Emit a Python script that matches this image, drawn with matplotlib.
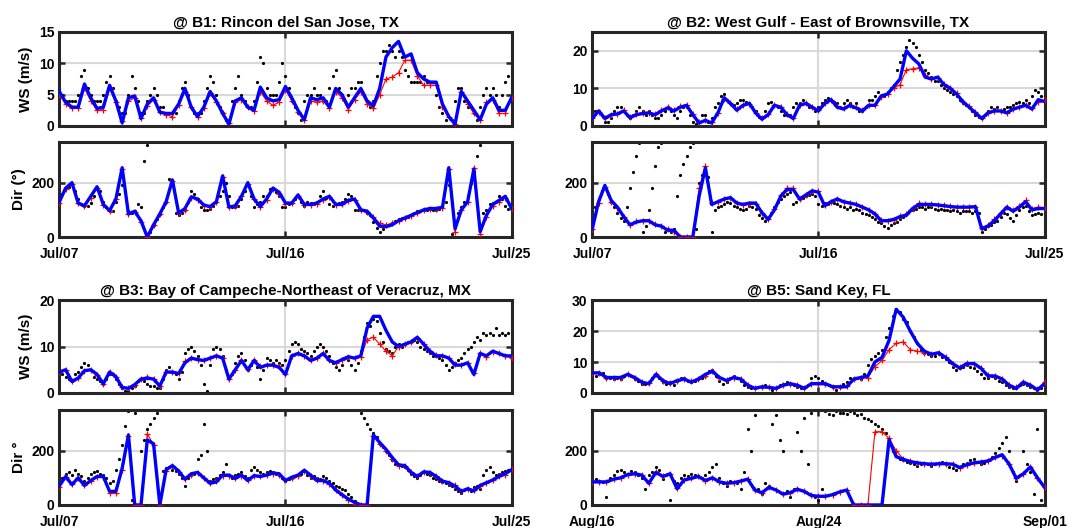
import numpy as np
import pandas as pd
import matplotlib
matplotlib.use("Agg")
import matplotlib.pyplot as plt
import matplotlib.dates as mdates

plt.rcParams.update({"font.family": "Liberation Sans", "font.weight": "bold", "font.size": 10,
                     "axes.labelweight": "bold", "axes.titleweight": "bold"})

# model series are 6-hourly, buoy obs are 3-hourly
# ---------- B1: Rincon del San Jose ----------
b1_start = "2020-07-07"
b1_ws_blue = [5.5, 3.8, 3.0, 3.0, 6.7, 4.5, 2.8, 3.0, 6.5, 4.0,
              0.5, 4.5, 4.8, 1.2, 3.5, 4.5, 2.2, 2.0, 2.0, 3.5,
              6.0, 3.0, 1.5, 3.0, 5.5, 4.0, 2.0, 0.3, 4.0, 4.5,
              3.0, 2.5, 6.2, 4.5, 4.0, 4.2, 6.3, 4.5, 2.5, 1.0,
              4.5, 4.2, 4.5, 3.0, 6.0, 5.0, 3.0, 4.5, 6.0, 4.0,
              3.2, 6.0, 11.0, 12.5, 13.5, 11.0, 11.5, 8.5, 7.5, 7.0,
              7.0, 3.5, 1.5, 0.3, 5.5, 4.0, 2.5, 1.0, 3.5, 4.5,
              2.5, 2.5, 4.5]
b1_ws_red = [5.0, 3.5, 2.8, 2.8, 6.0, 4.0, 2.5, 2.6, 6.0, 3.8,
             0.8, 4.0, 4.5, 1.2, 3.2, 4.2, 2.2, 1.8, 1.5, 3.3,
             5.5, 3.0, 1.5, 2.8, 5.2, 3.8, 2.0, 0.5, 3.8, 4.2,
             3.0, 2.4, 5.5, 4.0, 3.3, 3.8, 5.8, 4.0, 2.3, 1.0,
             4.0, 3.8, 4.0, 2.8, 5.5, 4.5, 2.6, 4.2, 5.5, 3.5,
             2.8, 5.0, 7.5, 7.8, 8.5, 10.5, 10.5, 8.0, 6.5, 6.5,
             6.5, 3.0, 1.5, 0.3, 5.5, 3.5, 2.0, 1.0, 3.8, 4.2,
             2.0, 2.0, 4.5]
b1_ws_obs = [6, 5, 4, 4, 4, 4, 5, 8, 9, 6,
             5, 4, 4, 4, 5, 7, 8, 6, 4, 3,
             2, 2, 5, 8, 6, 4, 2, 2, 4, 5,
             6, 5, 3, 3, 2, 2, 2, 2, 4, 6,
             7, 5, 3, 2, 2, 2, 4, 6, 8, 7,
             5, 3, 2, 1, 1, 4, 6, 8, 5, 4,
             3, 3, 4, 7, 11, 10, 6, 5, 5, 5,
             7, 10, 8, 6, 4, 3, 2, 1, 4, 5,
             5, 6, 5, 5, 4, 4, 6, 8, 9, 6,
             5, 4, 5, 6, 6, 7, 7, 5, 4, 3,
             4, 8, 10, 12, 12, 13, 12, 11, 12, 11,
             9, 8, 7, 7, 7, 7, 8, 7, 7, 7,
             5, 3, 2, 1, 0, 1, 4, 6, 6, 4,
             3, 3, 2, 1, 3, 5, 6, 5, 6, 5,
             3, 5, 7, 8, 6]
b1_dir_blue = [130, 180, 200, 125, 115, 150, 185, 120, 97, 140,
               255, 85, 95, 60, 0, 45, 85, 130, 210, 88,
               105, 148, 140, 118, 112, 130, 225, 110, 115, 150,
               200, 140, 112, 140, 180, 165, 125, 125, 155, 120,
               120, 125, 140, 150, 120, 120, 135, 140, 100, 95,
               70, 40, 38, 45, 60, 70, 80, 90, 100, 105,
               105, 110, 255, 30, 100, 130, 250, 20, 80, 120,
               135, 150, 105]
b1_dir_red = [125, 175, 195, 125, 115, 145, 180, 118, 95, 140,
              250, 85, 92, 55, 0, 45, 85, 130, 205, 90,
              100, 145, 138, 115, 110, 130, 220, 110, 115, 150,
              195, 140, 110, 138, 178, 160, 122, 125, 150, 118,
              118, 122, 138, 148, 118, 120, 132, 138, 100, 92,
              75, 50, 45, 50, 60, 70, 78, 90, 98, 105,
              105, 108, 250, 20, 98, 128, 255, 10, 75, 115,
              130, 145, 105]
b1_dir_obs = [120, 160, 180, 185, 195, 170, 140, 120, 115, 115,
              125, 150, 180, 170, 130, 110, 95, 95, 130, 160,
              190, 170, 95, 90, 95, 120, 110, 280, 340, 20,
              45, 65, 85, 110, 130, 215, 200, 90, 80, 90,
              100, 130, 170, 160, 140, 110, 100, 100, 105, 115,
              130, 150, 170, 200, 150, 110, 110, 115, 140, 170,
              190, 150, 110, 120, 130, 150, 150, 175, 180, 165,
              150, 110, 110, 120, 125, 140, 150, 130, 115, 130,
              125, 120, 130, 150, 170, 145, 120, 115, 120, 125,
              130, 140, 160, 150, 100, 100, 100, 100, 90, 80,
              55, 35, 20, 30, 40, 45, 50, 60, 65, 70,
              70, 75, 80, 90, 95, 95, 100, 100, 105, 100,
              100, 105, 110, 130, 190, 10, 60, 90, 110, 130,
              150, 200, 240, 300, 340, 90, 100, 120, 125, 130,
              150, 140, 115, 105, 105]

# ---------- B2: West Gulf - East of Brownsville ----------
b2_start = "2020-07-07"
b2_ws_blue = [2.0, 4.0, 2.0, 3.0, 3.2, 4.0, 2.2, 3.0, 3.3, 3.5,
              3.0, 4.0, 4.8, 4.0, 5.0, 5.5, 3.0, 0.8, 1.5, 0.8,
              3.5, 7.5, 6.0, 4.2, 5.5, 6.0, 3.5, 1.8, 3.0, 5.5,
              5.0, 3.0, 2.0, 5.5, 6.0, 5.0, 4.0, 6.0, 7.0, 5.0,
              4.5, 5.5, 4.8, 4.0, 5.5, 5.5, 8.0, 8.5, 10.5, 12.5,
              20.0, 18.0, 16.5, 13.0, 12.5, 13.0, 11.0, 10.0, 8.5, 6.5,
              5.0, 3.5, 2.0, 3.5, 4.0, 4.0, 3.5, 4.5, 5.0, 5.5,
              4.5, 7.0, 6.5]
b2_ws_red = [2.2, 3.8, 2.2, 3.0, 3.3, 4.2, 2.5, 3.2, 3.5, 3.5,
             3.2, 4.2, 5.0, 4.2, 5.2, 5.5, 3.2, 1.0, 1.5, 1.0,
             3.5, 7.2, 6.0, 4.5, 5.5, 5.8, 3.5, 2.0, 3.2, 5.5,
             5.0, 3.2, 2.2, 5.5, 6.2, 5.0, 4.2, 6.0, 7.0, 5.2,
             4.8, 5.5, 5.0, 4.2, 5.5, 5.5, 7.8, 8.5, 10.0, 11.0,
             15.0, 15.2, 15.5, 13.5, 12.5, 12.8, 11.2, 10.0, 8.8, 6.5,
             5.2, 3.8, 2.2, 3.5, 4.0, 4.0, 3.5, 4.5, 5.0, 5.5,
             4.8, 6.5, 6.8]
b2_ws_obs = [2, 4, 4, 3, 1, 1, 2, 4, 5, 5,
             4, 3, 2, 3, 4, 5, 4, 3, 4, 3,
             2, 2, 3, 4, 5, 4, 3, 2, 4, 5,
             5, 3, 1, 0.5, 1, 3, 3, 1, 2, 5,
             6, 8, 8.5, 7, 6, 5.5, 6, 7, 7, 6.5,
             6, 5, 4, 2.5, 2.5, 4, 6, 6.5, 5.5, 5,
             4, 3, 3, 3, 5, 6, 6, 7, 6, 5,
             5, 4, 5, 6, 7, 7.5, 7, 6.5, 6, 5,
             6, 7, 6, 5, 6, 4, 4, 5, 7, 7,
             8, 9, 8, 8, 9, 10, 11, 15, 17, 19,
             21, 23, 22, 21, 19, 17, 15, 14, 13, 12,
             12, 11, 10, 9.5, 9, 8.5, 8, 7, 6, 5.5,
             5, 4, 3, 2.5, 2, 3, 4, 5, 4.5, 5,
             4, 4.5, 5, 5, 5.5, 6, 6.5, 6, 7, 6,
             8, 9.5, 9, 8, 8]
b2_dir_blue = [30, 130, 190, 135, 110, 75, 45, 55, 60, 60,
               45, 40, 25, 25, 0, 0, 0, 150, 255, 120,
               130, 140, 145, 125, 120, 125, 125, 90, 65, 100,
               150, 175, 175, 140, 155, 170, 165, 115, 130, 140,
               130, 125, 120, 110, 100, 85, 60, 60, 65, 75,
               80, 105, 120, 120, 120, 118, 115, 112, 110, 110,
               110, 112, 30, 40, 60, 85, 110, 95, 110, 130,
               100, 105, 105]
b2_dir_red = [30, 125, 185, 130, 108, 75, 45, 58, 60, 60,
              48, 40, 28, 20, 0, 0, 0, 180, 260, 125,
              130, 140, 145, 125, 118, 122, 122, 90, 65, 105,
              155, 180, 180, 140, 155, 170, 168, 118, 130, 140,
              130, 125, 122, 112, 100, 85, 62, 58, 62, 78,
              85, 108, 125, 122, 122, 118, 118, 115, 112, 112,
              112, 112, 35, 45, 65, 90, 112, 100, 115, 135,
              105, 110, 108]
b2_dir_obs = [40, 110, 140, 170, 185, 160, 130, 110, 90, 70,
              60, 110, 180, 240, 300, 345, 20, 40, 100, 180,
              260, 330, 345, 20, 30, 20, 30, 150, 230, 270,
              300, 330, 345, 30, 200, 230, 250, 220, 20, 100,
              110, 115, 120, 130, 125, 115, 110, 105, 100, 105,
              115, 110, 105, 80, 70, 60, 70, 90, 110, 130,
              140, 150, 160, 165, 120, 130, 140, 145, 150, 155,
              160, 150, 120, 115, 125, 120, 130, 125, 120, 115,
              110, 105, 110, 100, 105, 100, 90, 85, 80, 75,
              65, 55, 50, 40, 35, 45, 50, 55, 65, 75,
              85, 95, 100, 105, 110, 110, 105, 110, 110, 105,
              100, 105, 100, 100, 95, 100, 95, 90, 95, 95,
              95, 90, 95, 90, 20, 30, 40, 45, 55, 60,
              75, 90, 85, 70, 60, 80, 100, 110, 115, 95,
              80, 85, 90, 85, 90]

# ---------- B3: Bay of Campeche ----------
b3_start = "2020-07-07"
b3_ws_blue = [4.5, 5.0, 2.5, 3.2, 4.8, 5.0, 4.0, 2.0, 4.5, 3.5,
              1.2, 1.0, 1.8, 3.0, 3.2, 3.0, 1.5, 4.5, 4.5, 4.2,
              6.5, 7.5, 7.2, 7.0, 7.5, 8.0, 7.5, 3.0, 5.0, 7.0,
              5.0, 7.0, 5.5, 6.0, 6.0, 5.5, 4.0, 8.0, 8.5, 8.0,
              7.0, 7.5, 8.5, 7.0, 6.5, 7.2, 7.8, 7.5, 8.0, 14.0,
              16.5, 16.5, 13.5, 11.0, 10.0, 10.5, 11.0, 12.0, 10.5, 9.0,
              8.0, 8.0, 7.5, 6.0, 6.0, 6.5, 4.0, 8.5, 8.0, 9.0,
              8.5, 8.0, 8.0]
b3_ws_red = [4.5, 5.0, 2.5, 3.2, 4.8, 5.0, 3.8, 2.0, 4.5, 3.5,
             1.2, 1.0, 1.8, 3.0, 3.5, 3.0, 1.5, 4.5, 4.5, 4.2,
             6.8, 7.5, 7.2, 7.0, 7.5, 8.0, 7.5, 3.0, 5.0, 7.0,
             5.2, 7.0, 5.8, 6.0, 6.0, 5.8, 4.0, 8.0, 8.5, 8.0,
             7.2, 7.5, 8.5, 7.0, 6.5, 7.2, 7.8, 7.5, 7.8, 11.5,
             12.0, 10.5, 9.0, 8.0, 10.0, 10.5, 11.0, 11.8, 10.5, 9.0,
             8.2, 8.0, 7.5, 6.2, 6.0, 6.5, 4.2, 8.5, 7.8, 8.8,
             8.5, 8.0, 7.5]
b3_ws_obs = [4.5, 4, 3.5, 3, 2.5, 4, 4.5, 5.5, 6.5, 6,
             5, 3.5, 3, 2.5, 2, 3, 4, 4, 3, 2,
             1, 0.5, 0.5, 1, 1.5, 2.5, 3, 2.5, 2, 1.5,
             1.5, 1, 1, 3, 5, 5.5, 4.5, 4, 3, 4.5,
             8.5, 9.5, 10, 9, 8, 6, 2, 0.5, 6, 9.5,
             10, 9.5, 8, 5, 3.5, 4, 6.5, 8, 8.5, 7,
             5, 6, 7, 5.5, 3, 5, 7.5, 7, 6.5, 7,
             6.5, 6, 7, 9, 10.5, 11, 10.5, 9.5, 9, 8.5,
             8, 9, 10, 10.5, 10, 9, 8, 6.5, 5.5, 5,
             6, 7.5, 7, 6, 5, 6.5, 9, 12, 15, 14.5,
             16, 15.5, 13, 11, 9.5, 9, 8.5, 10, 10.5, 10,
             10.5, 11, 11, 11.5, 11, 10, 9.5, 9, 8.5, 8,
             8, 7.5, 7, 6, 5, 5.5, 6.5, 7, 7.5, 8.5,
             9.5, 10, 11, 12, 11.5, 13, 12.5, 13, 12.5, 14,
             12.5, 13, 12.5, 13, 12.5]
b3_dir_blue = [70, 105, 75, 100, 72, 90, 105, 105, 50, 50,
               135, 258, 0, 0, 240, 225, 0, 130, 145, 125,
               95, 115, 120, 100, 80, 85, 110, 110, 98, 110,
               90, 108, 105, 110, 118, 115, 90, 102, 110, 128,
               110, 90, 90, 80, 55, 38, 22, 10, 0, 0,
               258, 230, 205, 175, 148, 145, 120, 105, 122, 120,
               105, 88, 82, 70, 50, 60, 52, 72, 82, 92,
               105, 115, 130]
b3_dir_red = [68, 102, 78, 98, 75, 88, 102, 102, 45, 45,
              130, 255, 0, 0, 262, 222, 0, 125, 145, 122,
              95, 112, 118, 100, 82, 88, 108, 108, 100, 108,
              92, 105, 105, 110, 115, 112, 92, 100, 108, 125,
              108, 92, 90, 78, 55, 35, 20, 5, 0, 0,
              255, 225, 200, 170, 145, 142, 122, 108, 120, 118,
              105, 90, 82, 72, 50, 58, 55, 70, 80, 92,
              105, 112, 132]
b3_dir_obs = [80, 100, 115, 120, 110, 130, 115, 105, 90, 100,
              115, 120, 125, 115, 110, 100, 80, 90, 130, 170,
              220, 290, 345, 20, 340, 0, 200, 240, 280, 300,
              320, 340, 350, 125, 135, 140, 130, 125, 115, 100,
              70, 100, 110, 115, 170, 185, 300, 200, 90, 95,
              100, 110, 120, 150, 110, 100, 110, 115, 120, 105,
              100, 130, 140, 130, 120, 115, 120, 125, 120, 115,
              110, 100, 90, 95, 100, 105, 110, 115, 125, 110,
              100, 105, 100, 95, 105, 100, 90, 80, 70, 65,
              60, 55, 40, 30, 15, 5, 340, 320, 300, 280,
              265, 250, 225, 215, 200, 185, 165, 150, 148, 145,
              140, 130, 115, 105, 100, 110, 120, 115, 110, 100,
              95, 90, 85, 80, 75, 70, 60, 50, 45, 55,
              60, 50, 65, 70, 60, 110, 130, 140, 120, 110,
              115, 120, 125, 130, 135]

# ---------- B5: Sand Key ----------
b5_start = "2020-08-16"
b5_ws_blue = [6.5, 6.5, 5.0, 5.0, 5.0, 6.0, 5.0, 3.5, 3.0, 6.0,
              4.0, 3.0, 4.0, 4.5, 3.5, 4.5, 6.0, 7.0, 5.0, 4.0,
              5.0, 4.5, 2.5, 1.5, 2.0, 1.8, 1.5, 2.5, 3.0, 2.5,
              1.5, 3.0, 3.0, 3.0, 2.0, 2.0, 2.0, 4.5, 5.0, 5.5,
              10.0, 11.5, 17.0, 27.0, 24.5, 20.0, 16.0, 13.5, 12.5, 13.0,
              11.5, 9.5, 8.0, 9.5, 9.5, 8.0, 5.5, 5.5, 4.5, 2.5,
              1.5, 3.5, 2.5, 1.0, 3.0]
b5_ws_red = [6.5, 6.5, 5.0, 5.0, 5.0, 6.0, 5.0, 3.5, 3.2, 6.0,
             4.0, 3.2, 4.0, 4.5, 3.8, 4.5, 5.5, 7.0, 5.0, 4.2,
             5.0, 4.5, 2.5, 1.5, 2.0, 1.8, 1.5, 2.5, 3.0, 2.5,
             1.5, 3.0, 3.0, 3.0, 2.0, 2.0, 2.2, 4.5, 5.0, 5.0,
             8.5, 10.5, 14.0, 16.0, 16.5, 14.0, 13.5, 13.0, 12.5, 13.0,
             11.5, 9.5, 8.5, 9.8, 9.5, 8.0, 5.8, 5.5, 4.5, 2.5,
             1.8, 3.5, 2.5, 1.2, 3.5]
b5_ws_obs = [6, 5.5, 6, 6.5, 5, 5, 4.5, 5, 4.5, 5.5,
             6, 5.5, 4.5, 4, 3, 3, 3.5, 5, 6, 5,
             3.5, 3, 3.5, 2.5, 4, 5, 5, 4, 3.5, 4,
             4.5, 5, 5.5, 7, 7.5, 5.5, 4, 3, 3.5, 5,
             5.5, 5, 4, 2.5, 2, 1.5, 1.5, 2, 2, 2.5,
             2, 1, 1.5, 2.5, 3, 3.5, 3, 2.5, 2, 1.5,
             1.5, 2.5, 5, 5.5, 5, 4, 3, 2.5, 2, 1,
             2, 3, 3.5, 5, 4.5, 5, 4.5, 6, 9, 11,
             12, 13, 14, 18, 21, 25, 27, 26, 24, 23,
             20, 18, 16, 14, 13, 12.5, 12, 12, 12.5, 11.5,
             11, 10, 8.5, 7.5, 8, 8.5, 9, 8.5, 8, 7,
             6, 5, 5, 5.5, 5, 4, 3.5, 2.5, 2, 1.5,
             1.5, 2.5, 3, 2.5, 2, 1.5, 1, 1.5, 3]
b5_dir_blue = [85, 85, 85, 95, 100, 112, 115, 110, 80, 120,
               105, 115, 60, 92, 98, 105, 90, 100, 85, 80,
               82, 88, 95, 55, 45, 65, 55, 40, 45, 58,
               50, 35, 32, 32, 38, 48, 55, 0, 0, 0,
               0, 0, 240, 178, 168, 160, 155, 152, 150, 152,
               152, 150, 138, 148, 155, 158, 162, 175, 185, 150,
               98, 115, 140, 100, 65]
b5_dir_red = [85, 85, 85, 95, 100, 112, 115, 110, 80, 120,
              105, 115, 62, 92, 98, 105, 90, 100, 85, 80,
              82, 88, 95, 55, 45, 65, 55, 40, 45, 58,
              50, 35, 32, 32, 38, 48, 55, 0, 0, 0,
              270, 270, 245, 200, 170, 162, 155, 152, 150, 152,
              152, 150, 138, 148, 155, 158, 162, 175, 182, 150,
              98, 115, 140, 100, 65]
b5_dir_obs = [90, 95, 90, 85, 30, 100, 110, 125, 130, 120,
              115, 125, 120, 110, 100, 60, 110, 120, 140, 130,
              95, 110, 20, 90, 80, 100, 110, 105, 115, 110,
              105, 100, 110, 120, 140, 150, 100, 80, 70, 90,
              85, 80, 60, 120, 280, 200, 330, 60, 40, 80,
              70, 300, 330, 240, 200, 50, 30, 60, 270, 200,
              320, 150, 340, 30, 20, 60, 345, 335, 330, 345,
              340, 340, 335, 345, 340, 330, 335, 320, 315, 310,
              300, 290, 280, 265, 240, 200, 180, 170, 165, 160,
              155, 150, 145, 150, 155, 150, 145, 150, 155, 160,
              150, 140, 135, 130, 140, 150, 155, 165, 170, 160,
              150, 155, 165, 175, 190, 210, 230, 250, 200, 120,
              90, 110, 200, 150, 120, 40, 280, 20, 60]


def draw(ax, start, obs, red, blue, ylim, yticks, ylabel=None, xlabels=False, title=None):
    t6 = pd.date_range(start, periods=len(blue), freq="6h")
    t3 = pd.date_range(start, periods=len(obs), freq="3h")
    ax.plot(t3, obs, "o", color="black", ms=2.3, mew=0, zorder=2)
    ax.plot(t6, red, "-+", color="red", lw=0.8, ms=5, mew=0.9, zorder=3)
    ax.plot(t6, blue, "-", color="blue", lw=2.4, zorder=4)
    ax.set_xlim(t6[0], t6[-1])
    ax.set_ylim(*ylim)
    ax.set_yticks(yticks)
    ax.set_xticks([t6[0], t6[len(t6) // 2], t6[-1]])
    ax.xaxis.set_major_formatter(mdates.DateFormatter("%b/%d"))
    if not xlabels:
        ax.set_xticklabels([])
    ax.grid(True, color="0.85", linewidth=1.5, zorder=0)
    ax.set_axisbelow(True)
    ax.tick_params(direction="in", top=True, right=True, length=4, width=1.8, labelsize=10,
                   color="0.15")
    ax.tick_params(axis="x", pad=7)
    for s in ax.spines.values():
        s.set_linewidth(2.2)
        s.set_color("0.15")
    if ylabel:
        ax.set_ylabel(ylabel, fontsize=11)
    if title:
        ax.set_title(title, fontsize=11, pad=4)


fig = plt.figure(figsize=(10.91, 5.28), dpi=100)
L, R, W = 0.0544, 0.5429, 0.4145
rows = [(0.7614, 0.178), (0.5511, 0.180), (0.2557, 0.176), (0.0436, 0.180)]
ax = [[fig.add_axes([x, b, W, h]) for x in (L, R)] for b, h in rows]

draw(ax[0][0], b1_start, b1_ws_obs, b1_ws_red, b1_ws_blue, (0, 15), [0, 5, 10, 15],
     ylabel="WS (m/s)", title="@ B1: Rincon del San Jose, TX")
draw(ax[1][0], b1_start, b1_dir_obs, b1_dir_red, b1_dir_blue, (0, 350), [0, 200],
     ylabel="Dir (°)", xlabels=True)
draw(ax[0][1], b2_start, b2_ws_obs, b2_ws_red, b2_ws_blue, (0, 25), [0, 10, 20],
     title="@ B2: West Gulf - East of Brownsville, TX")
draw(ax[1][1], b2_start, b2_dir_obs, b2_dir_red, b2_dir_blue, (0, 350), [0, 200], xlabels=True)
draw(ax[2][0], b3_start, b3_ws_obs, b3_ws_red, b3_ws_blue, (0, 20), [0, 10, 20],
     ylabel="WS (m/s)", title="@ B3: Bay of Campeche-Northeast of Veracruz, MX")
draw(ax[3][0], b3_start, b3_dir_obs, b3_dir_red, b3_dir_blue, (0, 350), [0, 200],
     ylabel="Dir °", xlabels=True)
draw(ax[2][1], b5_start, b5_ws_obs, b5_ws_red, b5_ws_blue, (0, 30), [0, 10, 20, 30],
     title="@ B5: Sand Key, FL")
draw(ax[3][1], b5_start, b5_dir_obs, b5_dir_red, b5_dir_blue, (0, 350), [0, 200], xlabels=True)

fig.savefig("out.png", dpi=100)
